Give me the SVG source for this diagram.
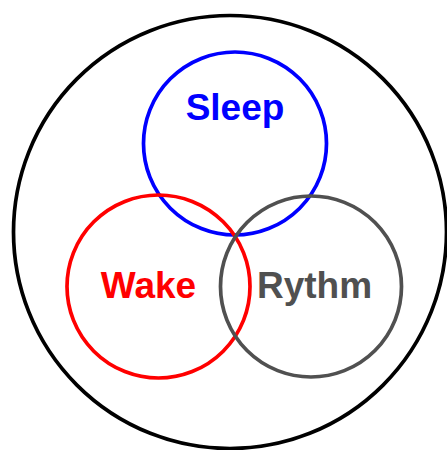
<svg xmlns="http://www.w3.org/2000/svg" width="447" height="450" viewBox="0 0 447 450">
<style>
circle{fill:none;stroke-width:3.7}
text{font-family:"Liberation Sans",Arial,sans-serif;font-weight:bold;font-size:37px;text-anchor:middle}
</style>
<rect width="447" height="450" fill="#fff"/>
<g id="outer"><circle cx="230" cy="232" r="216.5" stroke="#000"/></g>
<g id="sleep"><circle cx="235" cy="143.5" r="91.5" stroke="#0000ff"/><text x="235" y="120" fill="#0000ff">Sleep</text></g>
<g id="wake"><circle cx="158.5" cy="286.5" r="91.5" stroke="#ff0000"/><text x="148.5" y="298" fill="#ff0000">Wake</text></g>
<g id="rythm"><circle cx="311" cy="286.5" r="90.5" stroke="#505050"/><text x="314.5" y="298" fill="#505050">Rythm</text></g>
</svg>
